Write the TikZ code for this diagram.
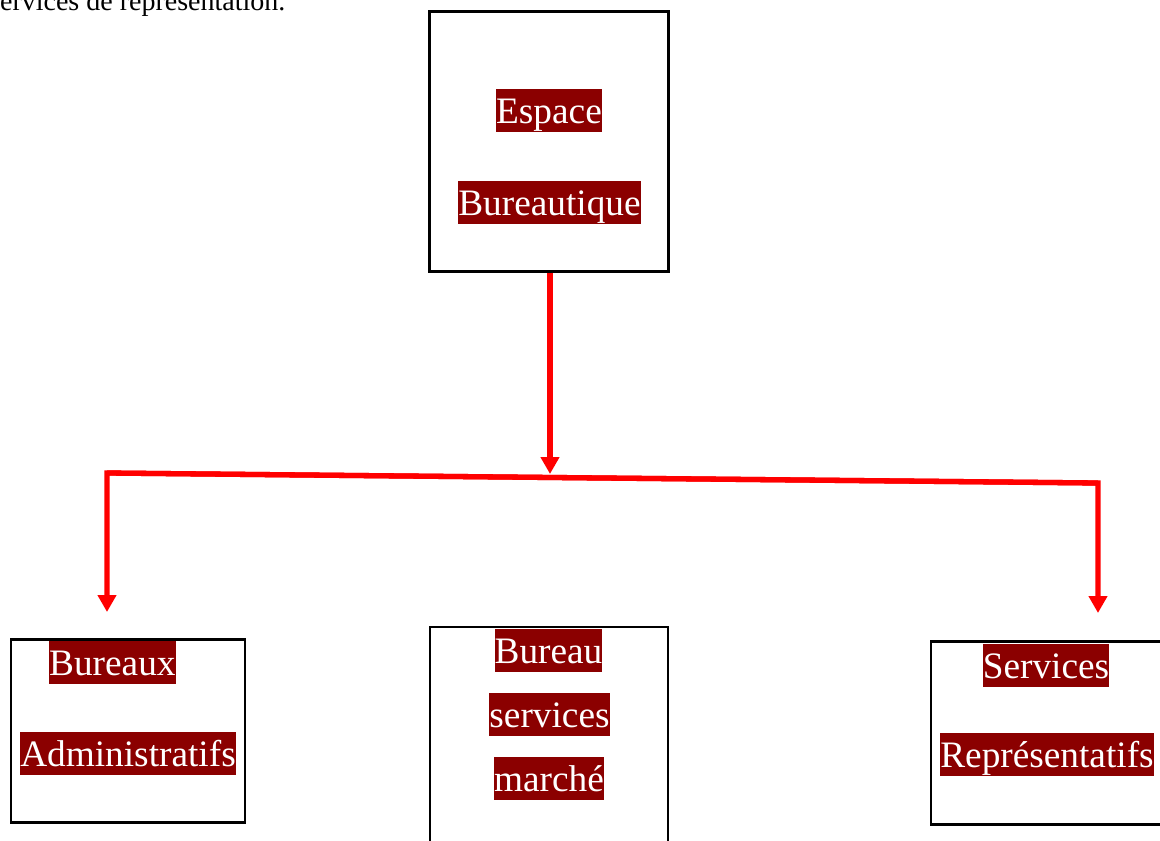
\documentclass[tikz,border=0pt]{standalone}
\usepackage{fontspec}
\setmainfont{Liberation Serif}
\usetikzlibrary{arrows.meta}
\definecolor{hl}{RGB}{139,0,0}
\begin{document}
\begin{tikzpicture}[x=1pt,y=-1pt,
  box/.style={draw=black, line width=2.3pt, inner sep=0pt},
  hlt/.style={fill=hl, text=white, inner xsep=0pt, inner ysep=0pt,
    text height=34pt, text depth=9pt, anchor=base,
    font=\fontsize{37.3}{44}\selectfont},
  redarrow/.style={draw=red, line width=5.3pt, line join=miter,
    -{Triangle[width=18pt,length=17pt]}},
  bodytext/.style={inner sep=0pt, anchor=base west,
    font=\fontsize{28}{33}\selectfont}
]
\useasboundingbox (0,0) rectangle (1160,841);
% clipped running text at top
\node[bodytext] (intro) at (-11,10) {services de représentation.};
% boxes
\node[box, minimum width=239pt, minimum height=260pt] (top) at (549,141.5) {};
\node[box, minimum width=234pt, minimum height=183pt] (left) at (128,731) {};
\node[box, minimum width=238.5pt, minimum height=240pt] (mid) at (549,747) {};
\node[box, minimum width=231pt, minimum height=183pt] (right) at (1046.5,733) {};
% highlighted texts
\node[hlt] (t1) at (549,123) {Espace};
\node[hlt] (t2) at (549.5,215) {Bureautique};
\node[hlt] (l1) at (112.4,675) {Bureaux};
\node[hlt] (l2) at (128,766) {Administratifs};
\node[hlt] (m1) at (548.5,663) {Bureau};
\node[hlt] (m2) at (549.5,727) {services};
\node[hlt] (m3) at (549,791) {marché};
\node[hlt] (r1) at (1046,678) {Services};
\node[hlt] (r2) at (1047,767) {Représentatifs};
% connectors
\coordinate (jl) at (107,473);
\coordinate (jr) at (1098,483);
\coordinate (jm) at (550,474);
\coordinate (ltip) at (107,612);
\coordinate (rtip) at (1098,613);
\draw[redarrow] ([xshift=1pt]top.south) -- (jm);
\draw[redarrow] (jr) -- (jl) -- (ltip);
\draw[redarrow] (jl) -- (jr) -- (rtip);
\end{tikzpicture}
\end{document}
